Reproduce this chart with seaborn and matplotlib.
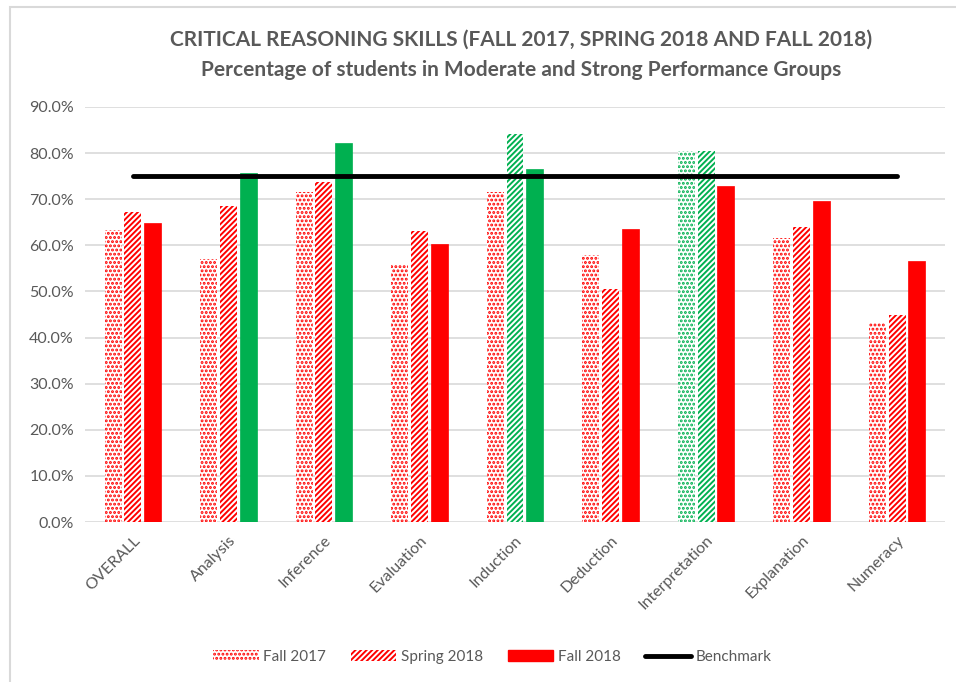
import pandas as pd
import matplotlib.pyplot as plt
import seaborn as sns
import numpy as np
from matplotlib.patches import Rectangle
from matplotlib.lines import Line2D
from matplotlib.ticker import FuncFormatter

# data (percent)
skills = ['OVERALL', 'Analysis', 'Inference', 'Evaluation', 'Induction',
          'Deduction', 'Interpretation', 'Explanation', 'Numeracy']
terms = ['Fall 2017', 'Spring 2018', 'Fall 2018']
fall_2017 = [63.3, 57.0, 71.6, 55.9, 71.6, 57.9, 80.5, 61.5, 43.2]
spring_2018 = [67.3, 68.6, 73.7, 63.2, 84.1, 50.5, 80.5, 63.9, 44.9]
fall_2018 = [64.9, 75.6, 82.3, 60.2, 76.6, 63.5, 72.9, 69.6, 56.5]
benchmark = 75.0

df = pd.DataFrame({
    'skill': skills * 3,
    'term': np.repeat(terms, len(skills)),
    'value': fall_2017 + spring_2018 + fall_2018,
})

sns.set_style('white')
plt.rcParams['font.family'] = ['Lato', 'DejaVu Sans']
plt.rcParams['hatch.linewidth'] = 1.4

RED = '#FF0000'
GREEN = '#00B050'
GREY = '#595959'

fig = plt.figure(figsize=(9.56, 6.82), dpi=100)
ax = fig.add_axes([85 / 956, 1 - 522 / 682, 860 / 956, 415 / 682])

sns.barplot(data=df, x='skill', y='value', hue='term', order=skills,
            hue_order=terms, width=0.62, gap=0.14, ax=ax, legend=False,
            errorbar=None)

hatches = ['....', '//////', None]
for cont, h in zip(ax.containers, hatches):
    for bar in cont:
        col = GREEN if bar.get_height() >= benchmark else RED
        if h is None:
            bar.set_facecolor(col)
            bar.set_edgecolor(col)
            bar.set_linewidth(0.5)
        else:
            bar.set_facecolor('white')
            bar.set_edgecolor(col)
            bar.set_hatch(h)
            bar.set_linewidth(0)

# benchmark line across category centres
ax.plot(range(len(skills)), [benchmark] * len(skills), color='black',
        lw=3.5, solid_capstyle='round', zorder=5)

ax.set_ylim(0, 90)
ax.set_xlim(-0.5, len(skills) - 0.5)
ax.set_yticks(np.arange(0, 91, 10))
ax.yaxis.set_major_formatter(FuncFormatter(lambda v, p: f'{v:.1f}%'))
ax.grid(axis='y', color='#D9D9D9', lw=1.2)
ax.set_axisbelow(True)
for s in ax.spines.values():
    s.set_visible(False)
ax.tick_params(axis='both', length=0, colors=GREY, labelsize=11.5, pad=8)
plt.setp(ax.get_xticklabels(), rotation=45, ha='right', rotation_mode='anchor')
ax.set_xlabel('')
ax.set_ylabel('')

fig.text(0.545, 1 - 40 / 682, 'CRITICAL REASONING SKILLS (FALL 2017, SPRING 2018 AND FALL 2018)',
         ha='center', va='center', fontsize=15, fontweight='bold', color=GREY)
fig.text(0.545, 1 - 70 / 682, 'Percentage of students in Moderate and Strong Performance Groups',
         ha='center', va='center', fontsize=15, fontweight='bold', color=GREY)

handles = [
    Rectangle((0, 0), 1, 1, facecolor='white', edgecolor=RED, hatch='....', lw=0),
    Rectangle((0, 0), 1, 1, facecolor='white', edgecolor=RED, hatch='//////', lw=0),
    Rectangle((0, 0), 1, 1, facecolor=RED, edgecolor=RED),
    Line2D([0], [0], color='black', lw=3.5),
]
fig.legend(handles, terms + ['Benchmark'], loc='center', ncol=4,
           bbox_to_anchor=(0.515, 1 - 657 / 682), frameon=False, fontsize=11,
           labelcolor=GREY, handlelength=3.0, handletextpad=0.3, columnspacing=1.6)

# chart border
fig.patches.append(Rectangle((10 / 956, -0.1), 1.2, 1 - 7 / 682 + 0.1,
                             transform=fig.transFigure, fill=False,
                             edgecolor='#D9D9D9', lw=1.5))

fig.savefig('out.png', dpi=100)
